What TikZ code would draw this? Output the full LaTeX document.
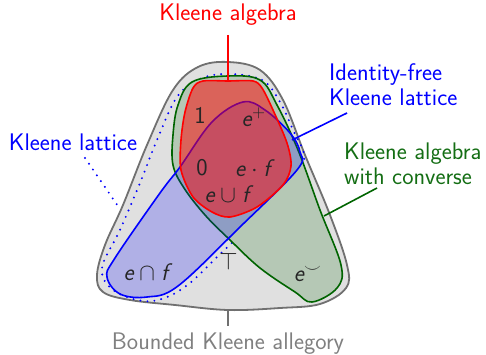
\documentclass[tikz,border=0pt]{standalone}
\usepackage{fontspec}
\usepackage{unicode-math}
\definecolor{grayfill}{RGB}{224,224,224}
\definecolor{grayline}{RGB}{112,112,112}
\definecolor{graytext}{RGB}{128,128,128}
\definecolor{greenfill}{RGB}{181,200,181}
\definecolor{greenline}{RGB}{0,100,0}
\definecolor{greentext}{RGB}{20,110,20}
\definecolor{bluec}{RGB}{0,0,255}
\definecolor{redc}{RGB}{255,0,0}
\newcommand{\vv}[1]{\textit{#1}}
\begin{document}
\begin{tikzpicture}[x=1pt,y=-1pt,
  font=\sffamily\fontsize{24}{25}\selectfont,
  region/.style={line width=1.6pt, line join=round},
  leader/.style={line width=1.6pt},
  dotline/.style={bluec, line width=2.2pt, dash pattern=on 0pt off 7pt, line cap=round},
  lbl/.style={inner sep=0pt, align=left},
  elem/.style={inner sep=0pt, text=black!85}]
\useasboundingbox (0,0) rectangle (486,355);

% outer gray region
\draw[region, fill=grayfill, draw=grayline, line width=1.8pt] plot[smooth cycle, tension=0.6] coordinates {
 (228,62) (260,70) (283,100) (305,155) (330,215) (347,265) (346,288) (320,304) (280,308) (228,310) (175,305) (130,300) (103,292) (97,275) (105,245) (123,205) (147,145) (173,90) (198,67)};

% dotted Kleene lattice
\draw[dotline] plot[smooth cycle, tension=0.6] coordinates {
 (228,74) (262,80) (280,102) (293,130) (304,155) (296,174) (250,225) (217,257) (190,283) (167,297) (143,301) (113,290) (102,268) (120,230) (140,183) (157,140) (177,97) (200,79)};

% green region
\draw[region, fill=greenfill, draw=greenline] plot[smooth cycle, tension=0.6] coordinates {
 (228,76) (260,80) (277,105) (298,150) (320,210) (341,265) (337,288) (312,302) (295,292) (260,268) (230,240) (205,215) (184,188) (173,165) (173,135) (178,105) (192,82)};

% blue region
\draw[region, fill=bluec, fill opacity=0.21, draw=bluec, draw opacity=1] plot[smooth cycle, tension=0.6] coordinates {
 (243,102) (265,110) (290,133) (300,152) (297,170) (240,227) (178,286) (147,297) (120,294) (107,277) (115,258) (160,193) (180,167) (212,122)};

% red region
\fill[redc, opacity=0.5] plot[smooth cycle, tension=0.5] coordinates {
 (228,81) (253,81) (262,88) (273,110) (287,143) (291,166) (283,185) (257,207) (230,217) (212,212) (193,197) (181,170) (181,140) (185,112) (193,88) (203,81)};
\draw[region, draw=redc] plot[smooth cycle, tension=0.5] coordinates {
 (228,81) (253,81) (262,88) (273,110) (287,143) (291,166) (283,185) (257,207) (230,217) (212,212) (193,197) (181,170) (181,140) (185,112) (193,88) (203,81)};

% anchor coordinates for leaders
\coordinate (redtop) at (228,81);
\coordinate (bluer) at (292,140);
\coordinate (greenr) at (324,216);
\coordinate (graybot) at (228,310);
\coordinate (dotl) at (120,209);

% labels
\node[lbl, text=redc] (ka) at (228,15) {Kleene algebra};
\node[lbl, text=bluec, anchor=west] (ifkl) at (329,85) {Identity-free\\Kleene lattice};
\node[lbl, text=greentext, anchor=west] (kac) at (344,164) {Kleene algebra\\with converse};
\node[lbl, text=bluec] (kl) at (73,142) {Kleene lattice};
\node[lbl, text=graytext] (bka) at (228,344) {Bounded Kleene allegory};

% leaders
\draw[leader, redc] (228,35) coordinate (kat) -- (redtop);
\draw[leader, bluec] (347,113) coordinate (ifklt) -- (bluer);
\draw[leader, greenline] (377,188) coordinate (kact) -- (greenr);
\draw[leader, grayline] (graybot) -- (228,326) coordinate (bkat);
\draw[dotline] (85,158) coordinate (klt) -- (dotl);

% elements
\node[elem] (one) at (200,115) {1};
\node[elem] (eplus) at (254,117) {\vv{e}$^{+}$};
\node[elem] (zero) at (202,168) {0};
\node[elem] (edotf) at (255,168) {\vv{e}${}\cdot{}$\vv{f}};
\node[elem] (ecupf) at (229,194) {\vv{e}${}\cup{}$\vv{f}};
\node[elem] (top) at (229,262) {$\top$};
\node[elem] (ecapf) at (148,272) {\vv{e}${}\cap{}$\vv{f}};
\node[elem] (econv) at (308,274) {\vv{e}$^{\smile}$};
\end{tikzpicture}
\end{document}
